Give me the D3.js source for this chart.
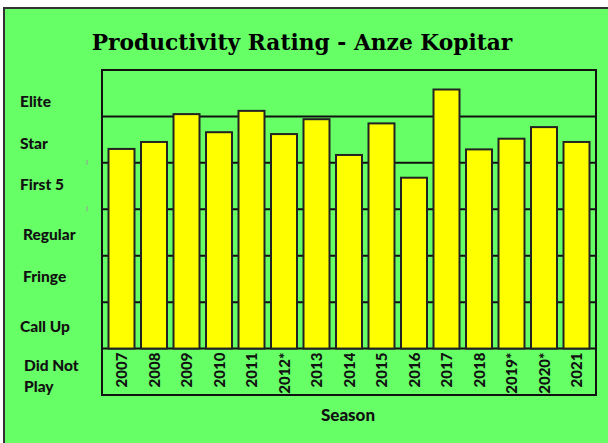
<!DOCTYPE html>
<html>
<head>
<meta charset="utf-8">
<script src="https://cdn.jsdelivr.net/npm/d3@7"></script>
<style>
  body { margin: 0; background: #fff; }
  svg { display: block; }
</style>
</head>
<body>
<svg id="chart"></svg>
<script>
// data
const seasons = ["2007", "2008", "2009", "2010", "2011", "2012*", "2013", "2014",
  "2015", "2016", "2017", "2018", "2019*", "2020*", "2021"];
const ratings = [4.30, 4.45, 5.05, 4.66, 5.12, 4.62, 4.94, 4.17,
  4.85, 3.68, 5.58, 4.29, 4.52, 4.77, 4.45];
const levels = ["Did Not Play", "Call Up", "Fringe", "Regular", "First 5", "Star", "Elite"];

const W = 608, H = 443;
const margin = { top: 70, right: 12, bottom: 48, left: 102 };
const width = W - margin.left - margin.right;

const svg = d3.select("#chart").attr("width", W).attr("height", H);

// green panel
svg.append("rect")
  .attr("x", 4).attr("y", 8)
  .attr("width", W).attr("height", H)
  .attr("fill", "#66ff66")
  .attr("stroke", "#333").attr("stroke-width", 2);

// title
let title = svg.append("text")
  .attr("x", 302).attr("y", 50)
  .attr("text-anchor", "middle")
  .attr("font-family", "'DejaVu Serif', serif")
  .attr("font-weight", "bold")
  .attr("font-size", 20)
  .attr("fill", "#000")
  .text("Productivity Rating - Anze Kopitar");
let tl = title.node().getComputedTextLength();
title.attr("font-size", 20 * 421 / tl);

// rating bands: 0 = Did Not Play ... 6 = Elite; level 0 sits below the bars
let y = d3.scaleLinear().domain([-1, 6]).range([395, 70]);
let x = d3.scaleBand().domain(seasons).range([margin.left, margin.left + width]).padding(0.2);

let g = svg.append("g");

// horizontal band lines
g.selectAll(".grid")
  .data(d3.range(0, 6))
  .enter()
  .append("line")
  .attr("x1", margin.left).attr("x2", margin.left + width)
  .attr("y1", (d) => y(d)).attr("y2", (d) => y(d))
  .attr("stroke", "#111").attr("stroke-width", 2);

// small stray ticks at the left
g.selectAll(".tick")
  .data([3, 4])
  .enter()
  .append("line")
  .attr("x1", 87).attr("x2", 87)
  .attr("y1", (d) => y(d) - 3).attr("y2", (d) => y(d) + 2)
  .attr("stroke", "#999").attr("stroke-width", 1);

// bars
g.selectAll(".bar")
  .data(ratings)
  .enter()
  .append("rect")
  .attr("x", (d, i) => x(seasons[i]))
  .attr("width", x.bandwidth())
  .attr("y", (d) => y(d))
  .attr("height", (d) => y(0) - y(d))
  .attr("fill", "#ffff00")
  .attr("stroke", "#222").attr("stroke-width", 2);

// frame
g.append("rect")
  .attr("x", margin.left).attr("y", y(6))
  .attr("width", width).attr("height", y(-1) - y(6))
  .attr("fill", "none")
  .attr("stroke", "#111").attr("stroke-width", 2);

// season labels
g.selectAll(".season")
  .data(seasons)
  .enter()
  .append("text")
  .attr("transform", (d) => "translate(" + (x(d) + x.bandwidth() / 2 + 5.5) + "," + (y(0) + 4) + ") rotate(-90)")
  .attr("text-anchor", "end")
  .attr("font-family", "Lato, sans-serif")
  .attr("font-weight", 900)
  .attr("font-size", 15)
  .attr("fill", "#111")
  .text((d) => d);

// level labels on the left
const nudge = [5, 2, -2, 2, -1, 4, 9];
const indent = [24, 20, 23, 23, 20, 20, 20];
levels.forEach(function (name, i) {
  let words = name === "Did Not Play" ? ["Did Not", "Play"] : [name];
  let cy = y(i - 0.5) + nudge[i];
  let t = svg.append("text")
    .attr("x", indent[i])
    .attr("font-family", "Lato, sans-serif")
    .attr("font-weight", 900)
    .attr("font-size", 15.5)
    .attr("fill", "#111");
  words.forEach(function (w, k) {
    t.append("tspan")
      .attr("x", indent[i])
      .attr("y", cy + 5 + (k - (words.length - 1) / 2) * 21)
      .text(w);
  });
});

// axis title
svg.append("text")
  .attr("x", 348).attr("y", 421)
  .attr("text-anchor", "middle")
  .attr("font-family", "Lato, sans-serif")
  .attr("font-weight", 900)
  .attr("font-size", 17)
  .attr("fill", "#111")
  .text("Season");
</script>
</body>
</html>
